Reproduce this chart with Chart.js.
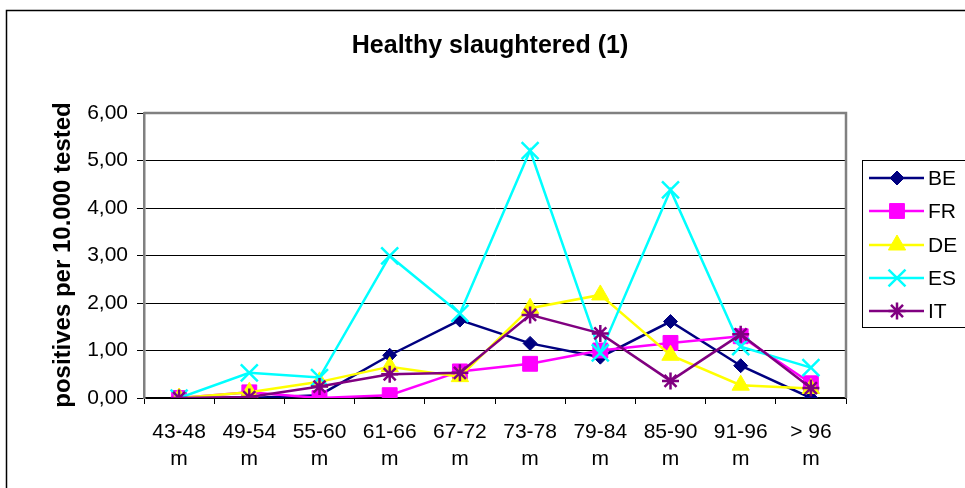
<!DOCTYPE html>
<html>
<head>
<meta charset="utf-8">
<script src="https://cdn.jsdelivr.net/npm/chart.js@4/dist/chart.umd.min.js"></script>
<style>
  body { margin: 0; background: #fff; }
  canvas { display: block; }
</style>
</head>
<body>
<canvas id="myChart" width="965" height="488"></canvas>
<script>
    var categories = [["43-48", "m"], ["49-54", "m"], ["55-60", "m"], ["61-66", "m"], ["67-72", "m"],
                      ["73-78", "m"], ["79-84", "m"], ["85-90", "m"], ["91-96", "m"], ["> 96", "m"]];
    var beValues = [0, 0, 0.06, 0.9, 1.64, 1.15, 0.86, 1.61, 0.68, 0];
    var frValues = [0, 0.12, 0, 0.06, 0.56, 0.72, 1.0, 1.16, 1.3, 0.31];
    var deValues = [0, 0.12, 0.34, 0.66, 0.45, 1.89, 2.17, 0.9, 0.27, 0.2];
    var esValues = [0, 0.53, 0.43, 2.99, 1.78, 5.21, 0.95, 4.38, 1.08, 0.64];
    var itValues = [0, 0.02, 0.24, 0.5, 0.53, 1.75, 1.36, 0.36, 1.34, 0.21];
    var titleText = "Healthy slaughtered (1)";
    var yTitleText = "positives per 10.000 tested";

    var FONT = "'Liberation Sans', Arial, sans-serif";

    function series(label, data, color, style, radius, bw, order) {
        return {
            label: label, data: data, order: order,
            borderColor: color, backgroundColor: color,
            borderWidth: 2.5,
            pointStyle: style, pointRadius: radius, pointHoverRadius: radius,
            pointBackgroundColor: color, pointBorderColor: color, pointBorderWidth: bw,
            tension: 0
        };
    }

    // frame, title, axis title, legend
    var decor = {
        id: 'decor',
        beforeDraw: function(chart) {
            var c = chart.ctx;
            c.save();
            c.fillStyle = '#fff';
            c.fillRect(0, 0, chart.width, chart.height);
            c.strokeStyle = '#000';
            c.lineWidth = 1.5;
            c.strokeRect(6.5, 10.5, 975, 500);
            c.restore();
        },
        afterDraw: function(chart) {
            var c = chart.ctx, a = chart.chartArea;
            c.save();
            // plot border top/right
            c.strokeStyle = '#808080';
            c.lineWidth = 2.5;
            c.beginPath();
            c.moveTo(a.left, a.top);
            c.lineTo(a.right, a.top);
            c.lineTo(a.right, a.bottom);
            c.stroke();

            c.fillStyle = '#000';
            c.textAlign = 'center';
            c.textBaseline = 'alphabetic';
            c.font = "bold 25px " + FONT;
            c.fillText(titleText, 490, 53);

            c.save();
            c.translate(63, 255);
            c.rotate(-Math.PI / 2);
            c.textBaseline = 'middle';
            c.font = "bold 24px " + FONT;
            c.fillText(yTitleText, 0, 0);
            c.restore();

            // legend
            c.strokeStyle = '#000';
            c.lineWidth = 1;
            c.strokeRect(862.5, 160.5, 120, 167);
            c.font = "21px " + FONT;
            c.textAlign = 'left';
            c.textBaseline = 'middle';
            var ys = [178, 211, 245, 278, 311];
            chart.data.datasets.forEach(function(ds, i) {
                var y = ys[i];
                c.strokeStyle = ds.borderColor;
                c.lineWidth = ds.borderWidth;
                c.beginPath();
                c.moveTo(869, y);
                c.lineTo(924, y);
                c.stroke();
                c.fillStyle = ds.pointBackgroundColor;
                c.strokeStyle = ds.pointBorderColor;
                c.lineWidth = ds.pointBorderWidth;
                Chart.helpers.drawPoint(c, { pointStyle: ds.pointStyle, radius: ds.pointRadius, rotation: 0, borderWidth: ds.pointBorderWidth }, 897, y);
                c.fillStyle = '#000';
                c.fillText(ds.label, 928, y + 1);
            });
            c.restore();
        }
    };

    var ctx = document.getElementById("myChart").getContext('2d');
    var myChart = new Chart(ctx, {
        type: 'line',
        data: {
            labels: categories,
            datasets: [
                series('BE', beValues, '#000080', 'rectRot', 7, 1, 5),
                series('FR', frValues, '#FF00FF', 'rect', 10.5, 1, 4),
                series('DE', deValues, '#FFFF00', 'triangle', 10, 1, 3),
                series('ES', esValues, '#00FFFF', 'crossRot', 12, 2.5, 2),
                series('IT', itValues, '#800080', 'star', 8.5, 2.5, 1)
            ]
        },
        options: {
            responsive: false,
            animation: false,
            events: [],
            layout: { padding: { left: 0, top: 113, right: 119, bottom: 0 } },
            plugins: {
                legend: { display: false },
                title: { display: false },
                tooltip: { enabled: false }
            },
            scales: {
                x: {
                    offset: true,
                    grid: { offset: true, drawOnChartArea: false, drawTicks: true, tickLength: 6, color: '#000' },
                    border: { color: '#000', width: 1.5 },
                    ticks: {
                        color: '#000', padding: 15, maxRotation: 0, autoSkip: false,
                        font: { family: FONT, size: 21, lineHeight: 1.29 }
                    },
                    afterFit: function(s) { s.height = 90; }
                },
                y: {
                    min: 0, max: 6,
                    grid: { color: '#000', lineWidth: 1, tickLength: 7 },
                    border: { color: '#808080', width: 2.5 },
                    ticks: {
                        stepSize: 1, color: '#000', padding: 9,
                        font: { family: FONT, size: 21 },
                        callback: function(v) { return v.toFixed(2).replace('.', ','); }
                    },
                    afterFit: function(s) { s.width = 144; }
                }
            }
        },
        plugins: [decor]
    });
</script>
</body>
</html>
